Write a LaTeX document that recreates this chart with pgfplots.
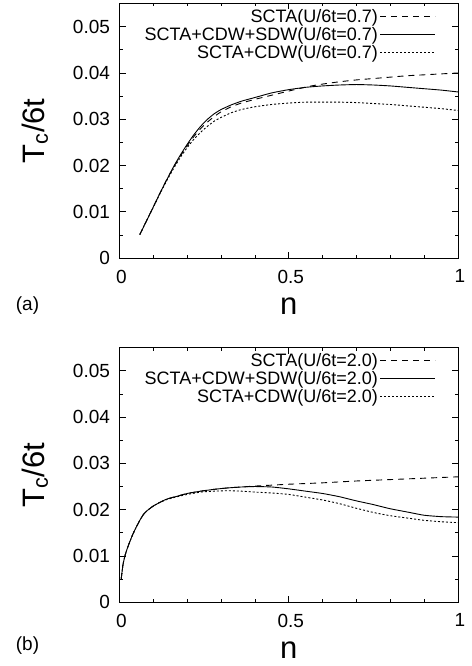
\documentclass[border=0pt]{standalone}
\usepackage{pgfplots}
\pgfplotsset{compat=1.18}
\usepackage{fontspec}
\setmainfont{Liberation Sans}
\setsansfont{Liberation Sans}

\pgfplotstableread{
n Tc
0.06 0.0051
0.08 0.0081
0.10 0.0111
0.12 0.0141
0.14 0.0170
0.16 0.0198
0.18 0.0223
0.20 0.0246
0.22 0.0267
0.24 0.0285
0.26 0.0300
0.28 0.0312
0.30 0.0321
0.33 0.0331
0.36 0.0339
0.40 0.0347
0.45 0.0357
0.50 0.0364
0.55 0.0369
0.60 0.0372
0.65 0.0374
0.70 0.0375
0.75 0.0374
0.80 0.0372
0.85 0.0369
0.90 0.0366
0.95 0.0363
1.00 0.0359
}\aSolid

\pgfplotstableread{
n Tc
0.06 0.0051
0.08 0.0081
0.10 0.0111
0.12 0.0141
0.14 0.0170
0.16 0.0197
0.18 0.0221
0.20 0.0243
0.22 0.0263
0.24 0.0280
0.26 0.0294
0.28 0.0306
0.30 0.0316
0.33 0.0327
0.36 0.0335
0.40 0.0343
0.45 0.0352
0.50 0.0361
0.56 0.0371
0.60 0.0376
0.65 0.0381
0.70 0.0385
0.75 0.0388
0.80 0.0391
0.85 0.0394
0.90 0.0396
0.95 0.0398
1.00 0.0400
}\aDashed

\pgfplotstableread{
n Tc
0.06 0.0051
0.08 0.0081
0.10 0.0110
0.12 0.0140
0.14 0.0168
0.16 0.0194
0.18 0.0218
0.20 0.0239
0.22 0.0257
0.24 0.0272
0.26 0.0285
0.28 0.0296
0.30 0.0304
0.33 0.0314
0.36 0.0321
0.40 0.0327
0.45 0.0332
0.50 0.0335
0.55 0.0337
0.60 0.0337
0.65 0.0337
0.70 0.0336
0.75 0.0334
0.80 0.0332
0.85 0.0329
0.90 0.0326
0.95 0.0323
1.00 0.0319
}\aDotted

\pgfplotstableread{
n Tc
0.005 0.0050
0.010 0.0080
0.015 0.0097
0.02 0.0110
0.03 0.0130
0.04 0.0148
0.05 0.0163
0.06 0.0177
0.07 0.0189
0.08 0.0197
0.10 0.0208
0.12 0.0216
0.14 0.0223
0.17 0.0229
0.20 0.0235
0.24 0.0240
0.28 0.0244
0.32 0.0247
0.36 0.0249
0.40 0.0250
0.45 0.0249
0.50 0.0245
0.55 0.0240
0.60 0.0235
0.65 0.0228
0.70 0.0219
0.75 0.0211
0.80 0.0202
0.85 0.0195
0.90 0.0188
0.95 0.0185
1.00 0.0184
}\bSolid

\pgfplotstableread{
n Tc
0.005 0.0050
0.010 0.0080
0.015 0.0097
0.02 0.0110
0.03 0.0130
0.04 0.0148
0.05 0.0163
0.06 0.0177
0.07 0.0189
0.08 0.0197
0.10 0.0208
0.12 0.0216
0.14 0.0223
0.17 0.0229
0.20 0.0235
0.24 0.0240
0.28 0.0244
0.32 0.0247
0.36 0.0249
0.40 0.0251
0.45 0.0253
0.50 0.0255
0.60 0.0258
0.70 0.0262
0.80 0.0265
0.90 0.0268
1.00 0.0271
}\bDashed

\pgfplotstableread{
n Tc
0.005 0.0050
0.010 0.0080
0.015 0.0097
0.02 0.0110
0.03 0.0130
0.04 0.0148
0.05 0.0163
0.06 0.0177
0.07 0.0189
0.08 0.0197
0.10 0.0208
0.12 0.0216
0.14 0.0222
0.17 0.0228
0.20 0.0233
0.24 0.0238
0.28 0.0240
0.32 0.0241
0.36 0.0240
0.40 0.0238
0.45 0.0236
0.50 0.0233
0.55 0.0227
0.60 0.0221
0.65 0.0213
0.70 0.0203
0.75 0.0194
0.80 0.0187
0.85 0.0182
0.90 0.0177
0.95 0.0174
1.00 0.0172
}\bDotted

\newcommand{\tkf}{\fontsize{19}{19}\selectfont}

\pgfplotsset{
  myax/.style={
    scale only axis, width=338.5pt, height=254.7pt,
    anchor=south west,
    xmin=0, xmax=1, ymin=0, ymax=0.055,
    xtick={0,0.5,1}, xticklabels={0,0.5,1},
    ytick={0,0.01,0.02,0.03,0.04,0.05},
    yticklabels={0,0.01,0.02,0.03,0.04,0.05},
    scaled y ticks=false,
    minor xtick={0.1,0.2,0.3,0.4,0.6,0.7,0.8,0.9},
    minor ytick={0.005,0.015,0.025,0.035,0.045},
    major tick length=6pt, minor tick length=3pt,
    tick style={black, line width=0.8pt},
    axis line style={line width=0.9pt},
    tick label style={font=\tkf},
    xticklabel style={yshift=-8pt, xshift=2pt},
    yticklabel style={xshift=-6pt},
    xlabel={n},
    ylabel={T\textsubscript{c}/6t},
    label style={font=\fontsize{31}{31}\selectfont},
    xlabel style={at={(axis description cs:0.5,-0.189)}, anchor=center},
    ylabel style={at={(axis description cs:-0.25,0.5)}, anchor=center},
    legend plot pos=right,
    legend cell align=right,
    legend style={draw=none, fill=none, at={(0.935,0.987)}, anchor=north east,
      font=\fontsize{18}{18}\selectfont, row sep=-0.5pt, inner sep=0pt},
    legend image code/.code={\draw[#1] (5pt,0pt) -- (60pt,0pt);},
    every axis plot/.append style={line width=0.9pt, black, smooth, tension=0.35},
  },
  dsh/.style={dash pattern=on 6pt off 5pt},
  dtt/.style={dash pattern=on 2pt off 2pt},
}

\begin{document}
\begin{tikzpicture}
\useasboundingbox (0,0) rectangle (471pt,-666pt);
\begin{axis}[myax, at={(119.5pt,-258.2pt)}]
\addplot[dsh] table[x=n,y=Tc] {\aDashed};
\addlegendentry{SCTA(U/6t=0.7)}
\addplot[solid] table[x=n,y=Tc] {\aSolid};
\addlegendentry{SCTA+CDW+SDW(U/6t=0.7)}
\addplot[dtt] table[x=n,y=Tc] {\aDotted};
\addlegendentry{SCTA+CDW(U/6t=0.7)}
\end{axis}
\begin{axis}[myax, at={(119.5pt,-602.3pt)}]
\addplot[dsh] table[x=n,y=Tc] {\bDashed};
\addlegendentry{SCTA(U/6t=2.0)}
\addplot[solid] table[x=n,y=Tc] {\bSolid};
\addlegendentry{SCTA+CDW+SDW(U/6t=2.0)}
\addplot[dtt] table[x=n,y=Tc] {\bDotted};
\addlegendentry{SCTA+CDW(U/6t=2.0)}
\end{axis}
\node[font=\fontsize{19}{19}\selectfont] at (27.5pt,-306pt) {(a)};
\node[font=\fontsize{19}{19}\selectfont] at (27.5pt,-646pt) {(b)};
\end{tikzpicture}
\end{document}
